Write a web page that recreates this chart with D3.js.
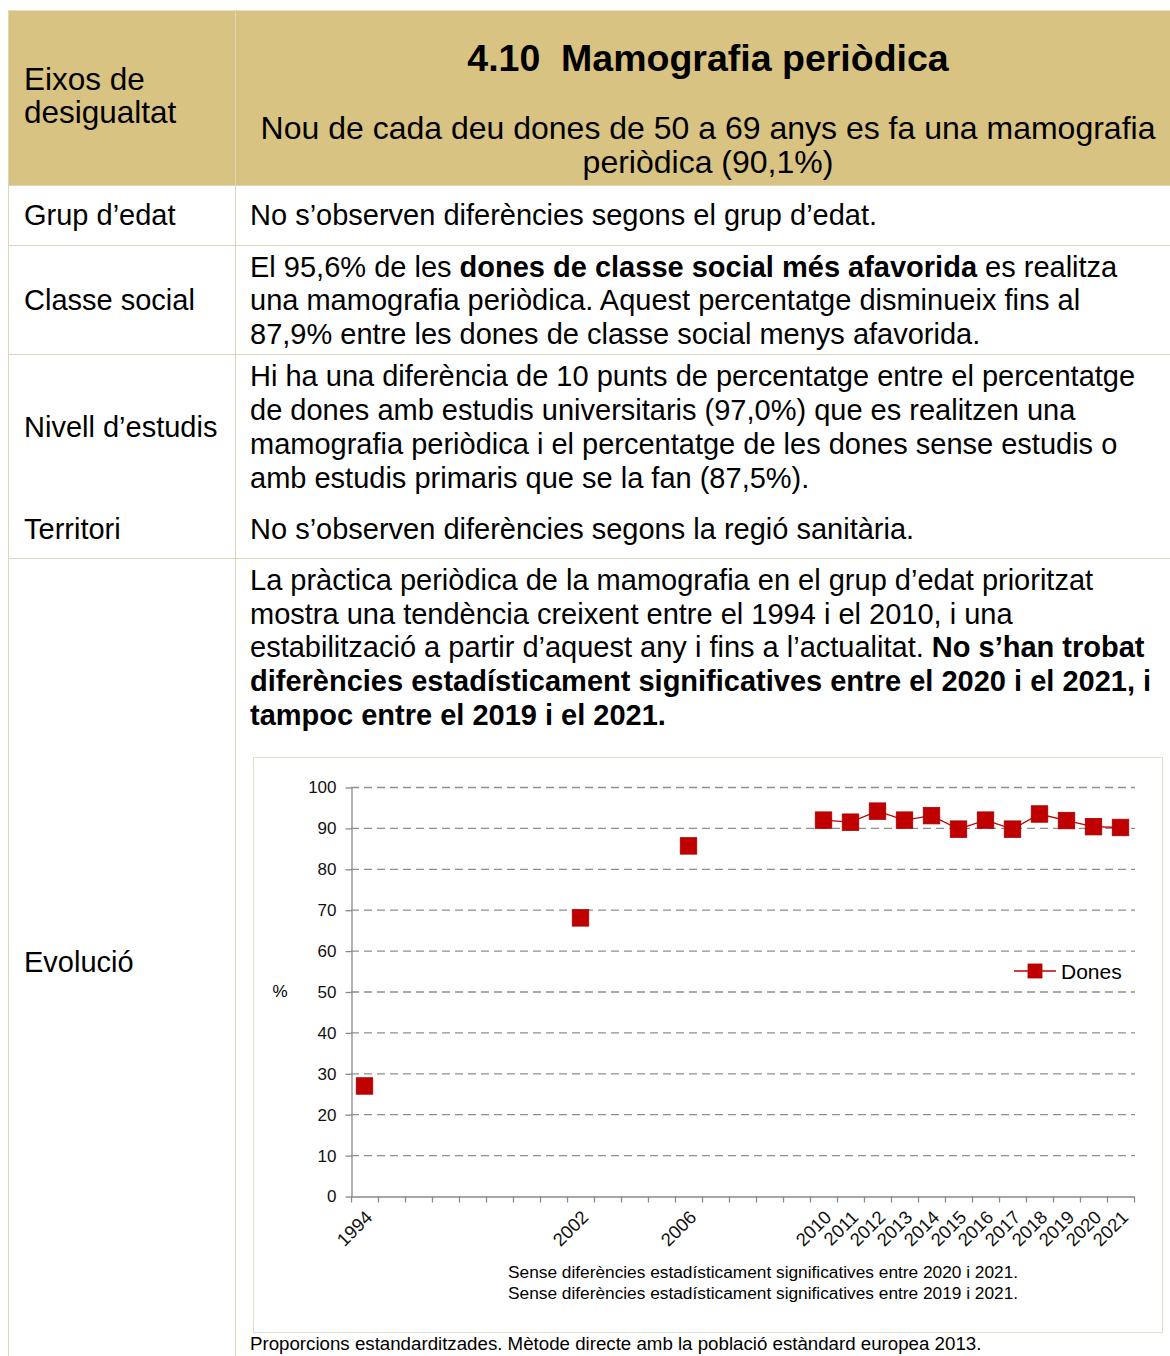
<!DOCTYPE html>
<html>
<head>
<meta charset="utf-8">
<script src="https://cdn.jsdelivr.net/npm/d3@7"></script>
<style>
  body { margin: 0; background: #fff; }
  svg { display: block; font-family: "Liberation Sans", Arial, sans-serif; }
</style>
</head>
<body>
<div id="page"></div>
<script>
// --- data ---
const years = ["1994", "", "", "", "", "", "", "", "2002", "", "", "", "2006", "", "", "", "",
  "2010", "2011", "2012", "2013", "2014", "2015", "2016", "2017", "2018", "2019", "2020", "2021"];
const dones = [26.9, null, null, null, null, null, null, null, 68.0, null, null, null, 85.6, null, null, null, null,
  91.9, 91.4, 94.1, 91.9, 93.0, 89.7, 91.9, 89.7, 93.4, 91.8, 90.3, 90.1];
const yTicks = [0, 10, 20, 30, 40, 50, 60, 70, 80, 90, 100];
const seriesName = "Dones";

const width = 1170, height = 1356;
const gold = "#d8c382", rule = "#ddd6bc";

const svg = d3.select("#page").append("svg")
    .attr("width", width)
    .attr("height", height);

// table background + rules
svg.append("rect").attr("x", 8).attr("y", 10).attr("width", width - 8).attr("height", 175).attr("fill", gold);
svg.append("line").attr("x1", 8).attr("x2", width).attr("y1", 10.5).attr("y2", 10.5).attr("stroke", "#e6dfc6");
[185, 245, 354, 558].forEach(y => {
  svg.append("line").attr("x1", 8).attr("x2", width).attr("y1", y + 0.5).attr("y2", y + 0.5).attr("stroke", rule);
});
[8, 235].forEach(x => {
  svg.append("line").attr("x1", x + 0.5).attr("x2", x + 0.5).attr("y1", 10).attr("y2", height).attr("stroke", rule);
});

// helper for lines of text made of [string, bold] pieces
function textLine(x, y, size, parts, anchor) {
  const t = svg.append("text")
      .attr("x", x).attr("y", y)
      .attr("font-size", size)
      .attr("fill", "#000")
      .attr("text-anchor", anchor || "start");
  parts.forEach(p => {
    t.append("tspan").attr("font-weight", p[1] ? "bold" : "normal").text(p[0]);
  });
  return t;
}

// header
textLine(24, 90, 31.5, [["Eixos de"]]);
textLine(24, 123, 31.5, [["desigualtat"]]);
textLine(708, 71, 37.5, [["4.10\u00a0\u00a0Mamografia periòdica", true]], "middle");
textLine(708, 139, 32, [["Nou de cada deu dones de 50 a 69 anys es fa una mamografia"]], "middle");
textLine(708, 173, 32, [["periòdica (90,1%)"]], "middle");

// rows
const fs = 29;
textLine(24, 225, fs, [["Grup d’edat"]]);
textLine(250, 225, fs, [["No s’observen diferències segons el grup d’edat."]]);

textLine(24, 310, fs, [["Classe social"]]);
textLine(250, 277, fs, [["El 95,6% de les "], ["dones de classe social més afavorida", true], [" es realitza"]]);
textLine(250, 310, fs, [["una mamografia periòdica. Aquest percentatge disminueix fins al"]]);
textLine(250, 344, fs, [["87,9% entre les dones de classe social menys afavorida."]]);

textLine(24, 437, fs, [["Nivell d’estudis"]]);
textLine(250, 386, fs, [["Hi ha una diferència de 10 punts de percentatge entre el percentatge"]]);
textLine(250, 420, fs, [["de dones amb estudis universitaris (97,0%) que es realitzen una"]]);
textLine(250, 454, fs, [["mamografia periòdica i el percentatge de les dones sense estudis o"]]);
textLine(250, 488, fs, [["amb estudis primaris que se la fan (87,5%)."]]);

textLine(24, 539, fs, [["Territori"]]);
textLine(250, 539, fs, [["No s’observen diferències segons la regió sanitària."]]);

textLine(24, 972, fs, [["Evolució"]]);
textLine(250, 590, fs, [["La pràctica periòdica de la mamografia en el grup d’edat prioritzat"]]);
textLine(250, 624, fs, [["mostra una tendència creixent entre el 1994 i el 2010, i una"]]);
textLine(250, 657, fs, [["estabilització a partir d’aquest any i fins a l’actualitat. "], ["No s’han trobat", true]]);
textLine(250, 691, fs, [["diferències estadísticament significatives entre el 2020 i el 2021, i", true]]);
textLine(250, 725, fs, [["tampoc entre el 2019 i el 2021.", true]]);

// chart frame
svg.append("rect").attr("x", 253.5).attr("y", 757.5).attr("width", 909).attr("height", 575)
    .attr("fill", "#fff").attr("stroke", "#e2dece");

const chart = svg.append("g");
const x = d3.scaleBand().domain(d3.range(years.length)).range([351, 1134]);
const y = d3.scaleLinear().domain([0, 100]).range([1196, 787]);

// dashed grid
chart.selectAll(".grid").data(yTicks.filter(d => d > 0)).enter().append("line")
    .attr("x1", 351).attr("x2", 1135)
    .attr("y1", d => y(d) + 0.5).attr("y2", d => y(d) + 0.5)
    .attr("stroke", "#8f8f8f").attr("stroke-width", 1.3)
    .attr("stroke-dasharray", "8,5");

// y axis
const yAxis = chart.append("g")
    .attr("transform", "translate(351.5,0.5)")
    .call(d3.axisLeft(y).tickValues(yTicks).tickSize(6).tickSizeOuter(0).tickPadding(9));
yAxis.select(".domain").attr("stroke", "#8a8a8a").attr("stroke-width", 1.3);
yAxis.selectAll(".tick line").attr("stroke", "#8a8a8a").attr("stroke-width", 1.3);
yAxis.selectAll(".tick text").attr("font-size", 17).attr("fill", "#111")
    .attr("font-family", "Liberation Sans, Arial, sans-serif");

// x axis: line, boundary ticks, rotated year labels
const xAxis = chart.append("g").attr("transform", "translate(0,1196.5)")
    .call(d3.axisBottom(x).tickSize(0).tickFormat(i => years[i]).tickPadding(0));
xAxis.select(".domain").attr("stroke", "#8a8a8a").attr("stroke-width", 1.3);
xAxis.selectAll(".tick text")
    .attr("font-size", 18.5).attr("fill", "#111")
    .attr("font-family", "Liberation Sans, Arial, sans-serif")
    .attr("text-anchor", "end")
    .attr("dy", 0)
    .attr("transform", "translate(9,22) rotate(-45)");
xAxis.selectAll(".bound").data(d3.range(years.length + 1)).enter().append("line")
    .attr("x1", i => (i < years.length ? x(i) : x.range()[1]) + 0.5)
    .attr("x2", i => (i < years.length ? x(i) : x.range()[1]) + 0.5)
    .attr("y1", 0).attr("y2", 6)
    .attr("stroke", "#8a8a8a").attr("stroke-width", 1.3);

chart.append("text").attr("x", 280).attr("y", 997).attr("font-size", 17)
    .attr("text-anchor", "middle").text("%");

// series
const pts = dones.map((v, i) => ({i, v}));
const line = d3.line()
    .defined(d => d.v != null)
    .x(d => x(d.i) + x.bandwidth() / 2)
    .y(d => y(d.v));
chart.append("path").datum(pts).attr("d", line)
    .attr("fill", "none").attr("stroke", "#c00000").attr("stroke-width", 1.3);

const sq = 16.5;
chart.selectAll(".pt").data(pts.filter(d => d.v != null)).enter().append("rect")
    .attr("x", d => x(d.i) + x.bandwidth() / 2 - sq / 2)
    .attr("y", d => y(d.v) - sq / 2)
    .attr("width", sq).attr("height", sq)
    .attr("fill", "#c00000").attr("stroke", "#a80000").attr("stroke-width", 0.8);

// legend
const lg = chart.append("g").attr("transform", "translate(1014,971)");
lg.append("line").attr("x1", 0).attr("x2", 42).attr("y1", 0).attr("y2", 0)
    .attr("stroke", "#c00000").attr("stroke-width", 1.3);
lg.append("rect").attr("x", 14).attr("y", -7).attr("width", 14).attr("height", 14)
    .attr("fill", "#c00000").attr("stroke", "#a80000").attr("stroke-width", 0.8);
lg.append("text").attr("x", 47).attr("y", 7.5).attr("font-size", 21).text(seriesName);

// notes
textLine(508, 1278, 17.3, [["Sense diferències estadísticament significatives entre 2020 i 2021."]]);
textLine(508, 1299, 17.3, [["Sense diferències estadísticament significatives entre 2019 i 2021."]]);
textLine(250, 1350, 18.7, [["Proporcions estandarditzades. Mètode directe amb la població estàndard europea 2013."]]);
</script>
</body>
</html>
